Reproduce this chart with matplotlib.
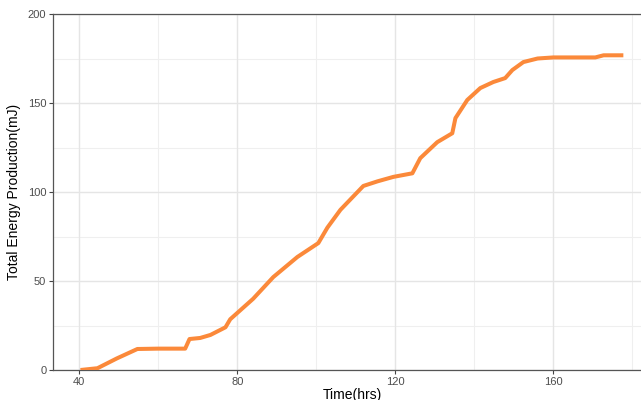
import matplotlib
matplotlib.use("Agg")
import matplotlib.pyplot as plt

time_hrs = [40.3, 44.6, 49.5, 54.7, 60.0, 66.8, 67.9, 70.6, 73.2, 77.0, 78.2,
            84.0, 89.1, 95.2, 100.5, 102.8, 106.1, 111.9, 115.5, 119.5, 124.3,
            126.3, 130.6, 134.4, 135.2, 138.2, 141.5, 144.8, 147.8, 149.6,
            152.4, 156.0, 160.0, 170.6, 172.7, 177.7]
energy_mj = [0.0, 1.0, 6.5, 11.8, 12.0, 12.0, 17.4, 18.0, 19.7, 24.0, 28.5,
             40.0, 52.2, 63.5, 71.3, 80.0, 90.0, 103.4, 106.0, 108.5, 110.5,
             119.0, 128.0, 133.0, 141.5, 151.7, 158.4, 161.8, 164.0, 168.5,
             173.0, 175.0, 175.6, 175.6, 176.8, 176.8]

x_ticks = [40, 80, 120, 160]
x_minor = [60, 100, 140, 180]
y_ticks = [0, 50, 100, 150, 200]
y_minor = [25, 75, 125, 175]

plt.rcParams['font.family'] = ['Liberation Sans', 'DejaVu Sans']

fig = plt.figure(figsize=(6.41, 4.0), dpi=100)
ax = fig.add_axes([0.083, 0.075, 0.932, 0.89])

ax.set_xlim(33.4, 184.6)
ax.set_ylim(0, 200)

for v in x_minor:
    ax.axvline(v, color='#EFEFEF', lw=0.8, zorder=0)
for v in y_minor:
    ax.axhline(v, color='#EFEFEF', lw=0.8, zorder=0)
for v in x_ticks:
    ax.axvline(v, color='#E5E5E5', lw=1.0, zorder=0)
for v in y_ticks:
    ax.axhline(v, color='#E5E5E5', lw=1.0, zorder=0)

ax.plot(time_hrs, energy_mj, color='#FB893A', lw=2.9, solid_capstyle='butt',
        solid_joinstyle='round', zorder=3)

ax.set_xticks(x_ticks)
ax.set_yticks(y_ticks)
ax.tick_params(axis='both', colors='#444444', labelsize=8, length=3, width=0.8,
               labelcolor='#4D4D4D', pad=2)

for s in ['top', 'left', 'bottom', 'right']:
    ax.spines[s].set_color('#555555')
    ax.spines[s].set_linewidth(0.9)

ax.set_xlabel('Time(hrs)', fontsize=10, color='black', labelpad=1)
ax.set_ylabel('Total Energy Production(mJ)', fontsize=10, color='black', labelpad=5)

fig.savefig('out.png', dpi=100)
